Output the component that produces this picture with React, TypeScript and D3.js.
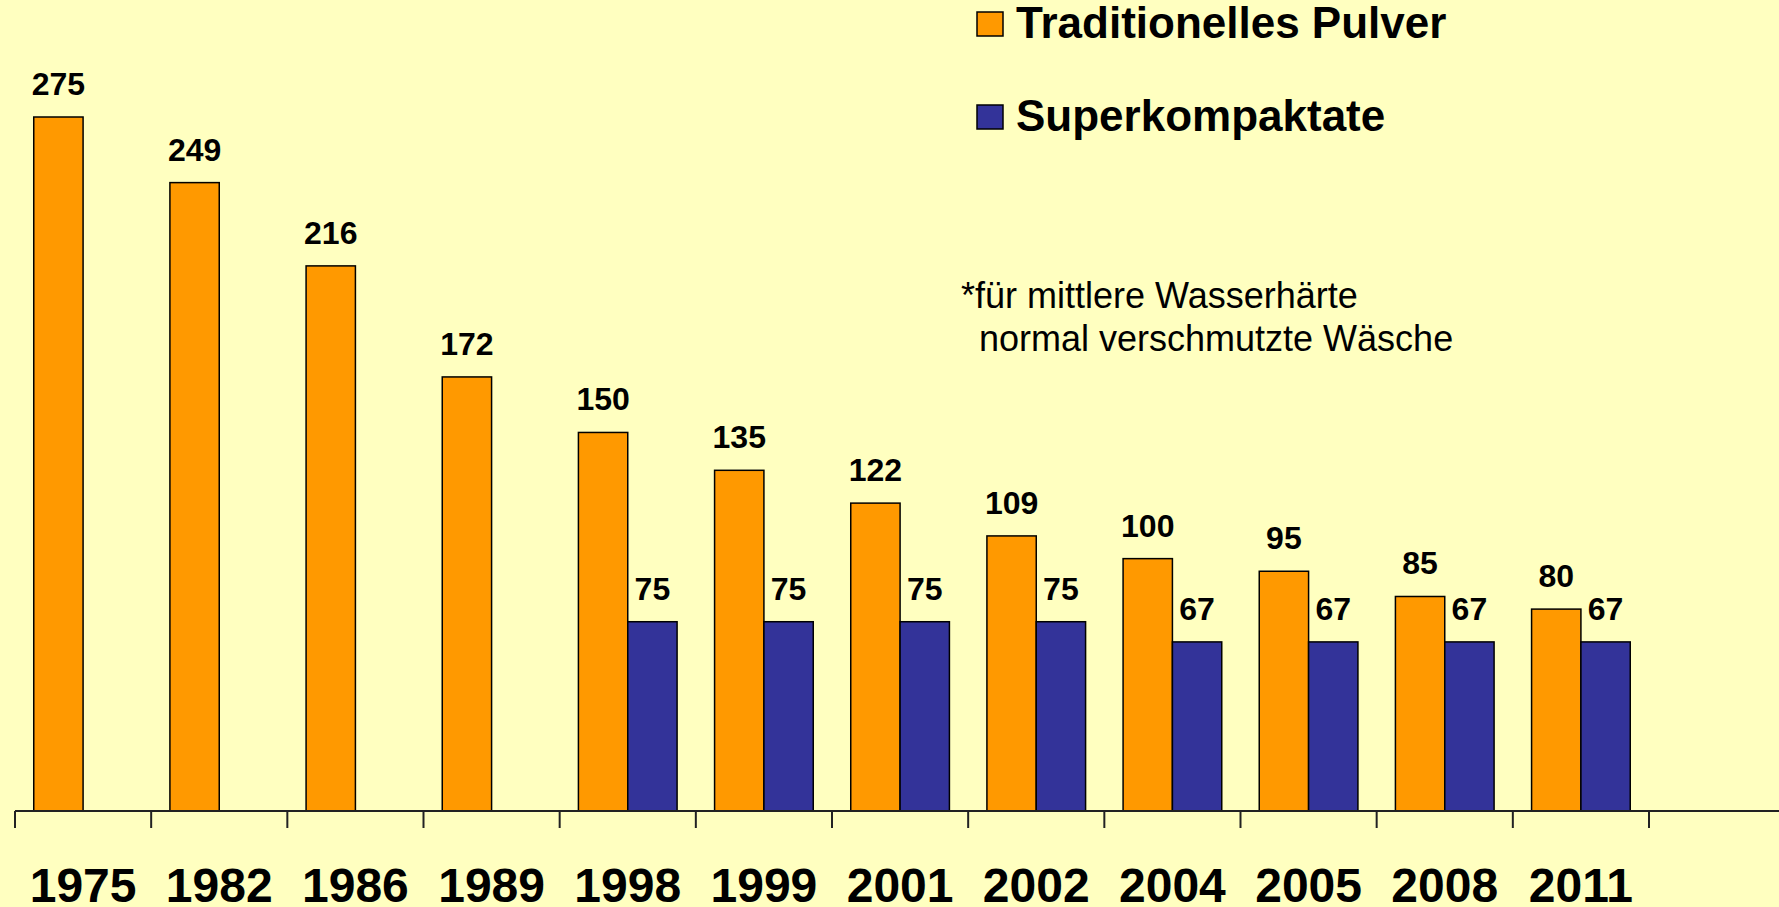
import React, { useEffect, useRef } from 'react';
import * as d3 from 'd3';

const years = ['1975', '1982', '1986', '1989', '1998', '1999', '2001', '2002', '2004', '2005', '2008', '2011'];
const traditionell = [275, 249, 216, 172, 150, 135, 122, 109, 100, 95, 85, 80];
const superkompakt: (number | null)[] = [null, null, null, null, 75, 75, 75, 75, 67, 67, 67, 67];
const seriesNames = ['Traditionelles Pulver', 'Superkompaktate'];
const seriesColors = ['#FF9900', '#333399'];
const noteLines = ['*für mittlere Wasserhärte', 'normal verschmutzte Wäsche'];

const W = 1779;
const H = 907;
const FONT = '"Liberation Sans", Arial, Helvetica, sans-serif';

const App: React.FC = () => {
  const svgRef = useRef<SVGSVGElement>(null);

  useEffect(() => {
    if (!svgRef.current) return;
    document.body.style.margin = '0';
    const svg = d3.select(svgRef.current);
    svg.selectAll('*').remove();

    svg.append('rect').attr('width', W).attr('height', H).attr('fill', '#FFFFC0');

    const baseY = 811;
    const x = d3.scaleBand<string>().domain(years).range([15, 1649]).padding(0);
    const xs = d3.scaleBand<string>().domain(['t', 's']).range([0, x.bandwidth()]).paddingInner(0).paddingOuter(0.38);
    const y = d3.scaleLinear().domain([0, 275]).range([baseY, 117]);

    const g = svg.append('g');

    // bars + value labels
    const series = [
      { key: 't', values: traditionell, color: seriesColors[0] },
      { key: 's', values: superkompakt, color: seriesColors[1] },
    ];
    series.forEach(s => {
      const items = years
        .map((yr, i) => ({ yr, v: s.values[i] }))
        .filter(d => d.v != null) as { yr: string; v: number }[];

      g.selectAll(null)
        .data(items)
        .enter()
        .append('rect')
        .attr('x', d => (x(d.yr) || 0) + (xs(s.key) || 0))
        .attr('y', d => y(d.v))
        .attr('width', xs.bandwidth())
        .attr('height', d => baseY - y(d.v))
        .attr('fill', s.color)
        .attr('stroke', '#000')
        .attr('stroke-width', 1.5);

      g.selectAll(null)
        .data(items)
        .enter()
        .append('text')
        .attr('x', d => (x(d.yr) || 0) + (xs(s.key) || 0) + xs.bandwidth() / 2)
        .attr('y', d => y(d.v) - 22)
        .attr('text-anchor', 'middle')
        .attr('font-family', FONT)
        .attr('font-weight', 'bold')
        .attr('font-size', 32)
        .attr('fill', '#000')
        .text(d => String(d.v));
    });

    // axis line and ticks
    g.append('line')
      .attr('x1', 15).attr('x2', W)
      .attr('y1', baseY).attr('y2', baseY)
      .attr('stroke', '#222').attr('stroke-width', 2);
    const tickXs = years.map(yr => x(yr) || 0).concat([x.range()[1]]);
    g.selectAll(null)
      .data(tickXs)
      .enter()
      .append('line')
      .attr('x1', d => d).attr('x2', d => d)
      .attr('y1', baseY).attr('y2', baseY + 17)
      .attr('stroke', '#222').attr('stroke-width', 2);

    // year labels
    g.selectAll(null)
      .data(years)
      .enter()
      .append('text')
      .attr('x', d => (x(d) || 0) + x.bandwidth() / 2)
      .attr('y', 902)
      .attr('text-anchor', 'middle')
      .attr('font-family', FONT)
      .attr('font-weight', 'bold')
      .attr('font-size', 48)
      .attr('fill', '#000')
      .text(d => d);

    // legend
    const legend = svg.append('g');
    seriesNames.forEach((name, i) => {
      const ly = 38 + i * 93;
      legend.append('rect')
        .attr('x', 977).attr('y', ly - 26)
        .attr('width', 26).attr('height', 24)
        .attr('fill', seriesColors[i])
        .attr('stroke', '#000').attr('stroke-width', 1.5);
      legend.append('text')
        .attr('x', 1016).attr('y', ly)
        .attr('font-family', FONT)
        .attr('font-weight', 'bold')
        .attr('font-size', 44)
        .attr('fill', '#000')
        .text(name);
    });

    // footnote
    noteLines.forEach((line, i) => {
      svg.append('text')
        .attr('x', i === 0 ? 961 : 979)
        .attr('y', 308 + i * 43)
        .attr('font-family', FONT)
        .attr('font-size', 36)
        .attr('fill', '#000')
        .text(line);
    });
  }, []);

  return (
    <svg
      ref={svgRef}
      width={W}
      height={H}
      style={{ display: 'block', position: 'fixed', left: 0, top: 0 }}
    />
  );
};

export default App;
